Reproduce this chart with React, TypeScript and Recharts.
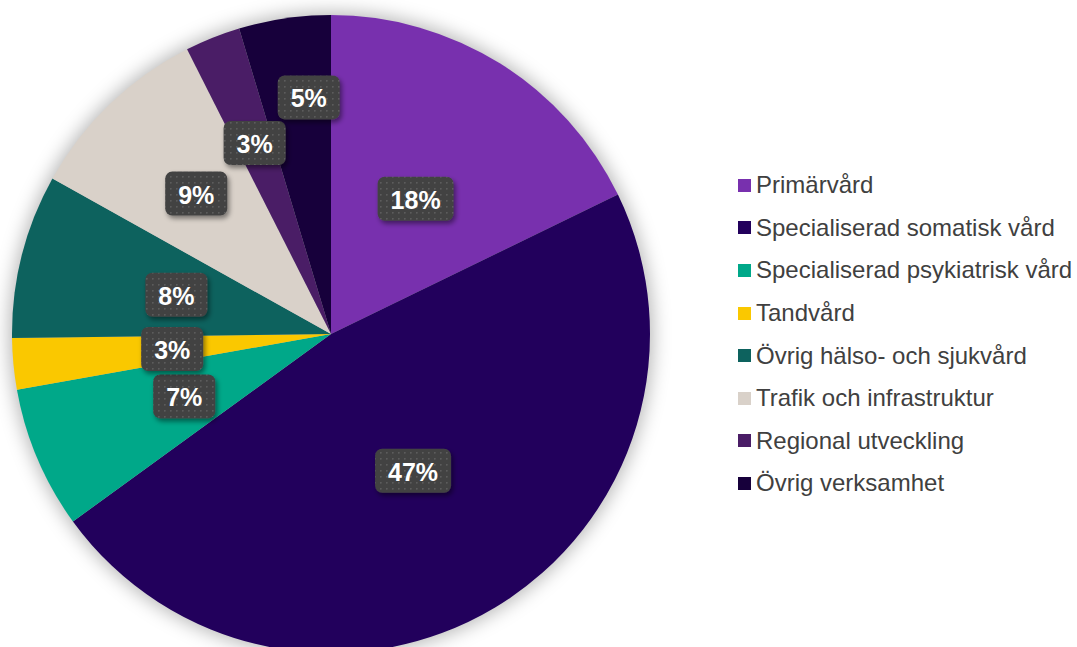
import React from 'react';
import { PieChart, Pie, Cell, Sector, Legend } from 'recharts';

const categories = [
  'Primärvård',
  'Specialiserad somatisk vård',
  'Specialiserad psykiatrisk vård',
  'Tandvård',
  'Övrig hälso- och sjukvård',
  'Trafik och infrastruktur',
  'Regional utveckling',
  'Övrig verksamhet',
];
const shares = [17.8, 47.2, 7.2, 2.6, 8.3, 9.45, 2.8, 4.65];
const colors = ['#7830AE', '#22005C', '#00A889', '#FAC800', '#0D625E', '#D9D1C9', '#4A1D66', '#17003B'];

// label placement (layout, not data): distance as fraction of radius, angular nudge in degrees
const labelRadius = [0.5, 0.5, 0.5, 0.5, 0.5, 0.61, 0.645, 0.745];
const labelAngleNudge = [0, 0, 0, 0, 0, 0, 0, -3];

const data = categories.map((name, i) => ({ name, value: shares[i] }));
const bgData = [{ name: 'bg', value: 1 }];

const RAD = Math.PI / 180;

const renderLabel = (props: any) => {
  const { cx, cy, midAngle, outerRadius, percent, index } = props;
  const r = outerRadius * labelRadius[index];
  const a = midAngle + labelAngleNudge[index];
  const x = cx + r * Math.cos(-a * RAD);
  const y = cy + r * Math.sin(-a * RAD);
  const txt = `${Math.round(percent * 100)}%`;
  const digits = txt.length - 1;
  const tw = digits * 13.9 + 22.2;
  const w = tw + 26;
  const h = 44;
  return (
    <g key={`lbl-${index}`}>
      {index === 0 && (
        <defs>
          <pattern id="dotPat" x="0" y="0" width="6" height="6" patternUnits="userSpaceOnUse">
            <rect x="0" y="0" width="6" height="6" fill="#424242" />
            <rect x="2" y="2" width="1.6" height="1.6" fill="#5C5C5C" />
          </pattern>
          <filter id="lblShadow" x="-30%" y="-30%" width="160%" height="160%">
            <feDropShadow dx="2" dy="3" stdDeviation="2.5" floodColor="#000" floodOpacity="0.45" />
          </filter>
        </defs>
      )}
      <rect
        x={x - w / 2}
        y={y - h / 2}
        width={w}
        height={h}
        rx={7}
        ry={7}
        fill="url(#dotPat)"
        filter="url(#lblShadow)"
      />
      <text
        x={x}
        y={y + 1}
        textAnchor="middle"
        dominantBaseline="central"
        fill="#FFFFFF"
        fontFamily="'Liberation Sans', Arial, sans-serif"
        fontWeight="bold"
        fontSize={25}
      >
        {txt}
      </text>
    </g>
  );
};

const bgShape = (props: any) => (
  <g>
    <defs>
      <filter id="pieGlow" x="-20%" y="-20%" width="140%" height="140%">
        <feGaussianBlur stdDeviation="9" />
      </filter>
    </defs>
    <Sector {...props} fill="#000" fillOpacity={0.28} filter="url(#pieGlow)" />
  </g>
);

const LegendContent = () => (
  <div style={{ fontFamily: "'Liberation Sans', Arial, sans-serif", fontSize: 24, color: '#404040' }}>
    {categories.map((c, i) => (
      <div key={c} style={{ display: 'flex', alignItems: 'center', height: 42.6, whiteSpace: 'nowrap' }}>
        <span style={{ display: 'inline-block', width: 13, height: 13, background: colors[i], marginRight: 5 }} />
        <span>{c}</span>
      </div>
    ))}
  </div>
);

export default function App() {
  return (
    <div style={{ position: 'absolute', left: 0, top: 0, width: 1077, height: 647, background: '#fff' }}>
      <PieChart width={1077} height={647} margin={{ top: 0, right: 0, bottom: 0, left: 0 }}>
        <Pie
          data={bgData}
          dataKey="value"
          cx={331}
          cy={334}
          outerRadius={322}
          startAngle={90}
          endAngle={-270}
          shape={bgShape}
          stroke="none"
          isAnimationActive={false}
          legendType="none"
        />
        <Pie
          data={data}
          dataKey="value"
          nameKey="name"
          cx={331}
          cy={334}
          outerRadius={319}
          startAngle={90}
          endAngle={-270}
          stroke="none"
          label={renderLabel}
          labelLine={false}
          isAnimationActive={false}
        >
          {data.map((d, i) => (
            <Cell key={d.name} fill={colors[i]} />
          ))}
        </Pie>
        <Legend
          layout="vertical"
          align="right"
          verticalAlign="top"
          content={LegendContent}
          wrapperStyle={{ left: 738, top: 164, width: 340 }}
        />
      </PieChart>
    </div>
  );
}
